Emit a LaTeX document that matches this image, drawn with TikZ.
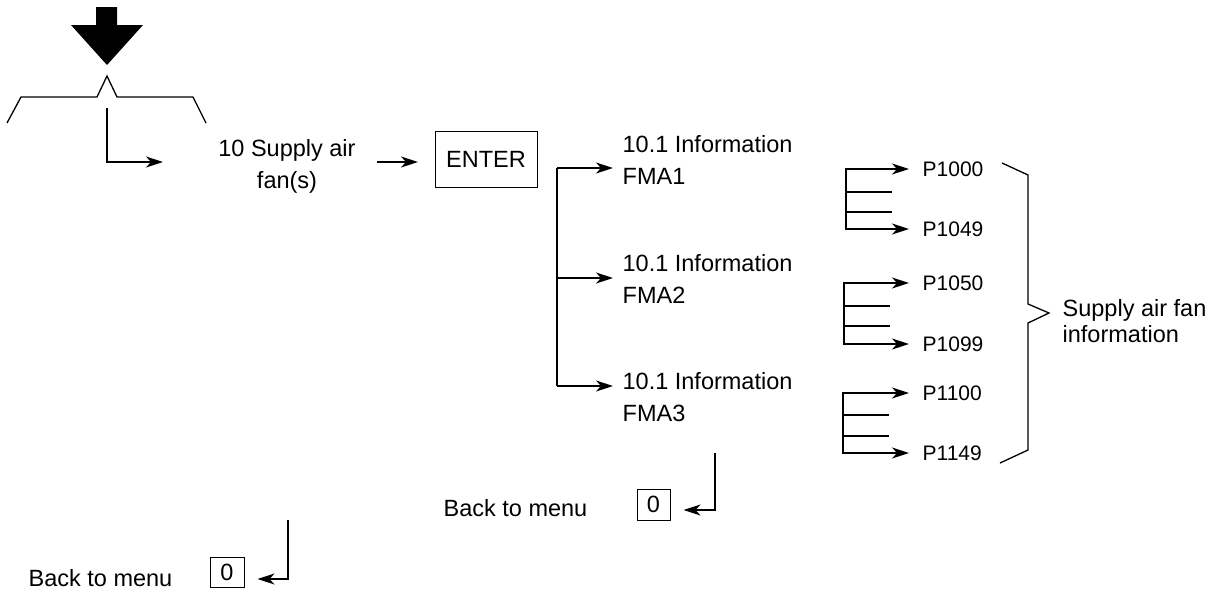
\documentclass[tikz,border=0pt]{standalone}
\usepackage{fontspec}
\setmainfont{Liberation Sans}
\usetikzlibrary{arrows.meta}
\begin{document}
\begin{tikzpicture}[x=1pt,y=-1pt,line width=1.3pt,
  >={Stealth[length=17pt,width=11pt,inset=5pt]},
  lbl/.style={font=\fontsize{23.5}{32}\selectfont,inner sep=0pt},
  plbl/.style={font=\fontsize{21}{26}\selectfont,inner sep=0pt,anchor=west},
  keybox/.style={draw,line width=1pt,inner sep=0pt,font=\fontsize{23.5}{26}\selectfont}]
\useasboundingbox (0,0) rectangle (1212,590);
% big entry arrow
\fill (96,7) -- (117,7) -- (117,25) -- (143,25) -- (107,65) -- (71,25) -- (96,25) -- cycle;
% bracket
\draw (7,123) -- (21,97) -- (97,97) -- (107,76) -- (117,97) -- (193,97) -- (206,123);
% supply air fan node
\node[lbl,align=center] (supply) at (287,166) {10 Supply air\\fan(s)};
\coordinate (start) at (107,108);
\coordinate (supplyin) at (163,162);
\draw[->] (start) |- (supplyin);
% enter
\node[keybox,minimum width=102pt,minimum height=56pt] (enter) at (486,159) {ENTER};
\coordinate (supplyout) at (377,162);
\coordinate (enterin) at (418,162);
\draw[->] (supplyout) -- (enterin);
% information nodes
\node[lbl,align=left,anchor=west] (info1) at (622,160) {10.1 Information\\FMA1};
\node[lbl,align=left,anchor=west] (info2) at (622,279) {10.1 Information\\FMA2};
\node[lbl,align=left,anchor=west] (info3) at (622,397) {10.1 Information\\FMA3};
\coordinate (b1) at (557,168);
\coordinate (b2) at (557,278);
\coordinate (b3) at (557,386);
\coordinate (i1) at (613,168);
\coordinate (i2) at (613,278);
\coordinate (i3) at (613,386);
\draw (b1) -- (b3);
\draw[->] (b1) -- (i1);
\draw[->] (b2) -- (i2);
\draw[->] (b3) -- (i3);
% parameter groups
\node[plbl] (p1000) at (922,169) {P1000};
\node[plbl] (p1049) at (922,229) {P1049};
\node[plbl] (p1050) at (922,283) {P1050};
\node[plbl] (p1099) at (922,344) {P1099};
\node[plbl] (p1100) at (922,393) {P1100};
\node[plbl] (p1149) at (922,453) {P1149};
\draw[<->] (909,169) -| (846,229) -- (909,229);
\draw (846,192) -- (892,192) (846,212) -- (892,212);
\draw[<->] (909,283) -| (844,344) -- (909,344);
\draw (844,306) -- (890,306) (844,326) -- (890,326);
\draw[<->] (909,393) -| (843,453) -- (909,453);
\draw (843,415) -- (889,415) (843,436) -- (889,436);
% brace
\draw (1002,163) -- (1028,175) -- (1028,304) -- (1049,313) -- (1028,323) -- (1028,450) -- (1000,463);
\node[lbl,font=\fontsize{23.5}{26}\selectfont,align=left,anchor=west] (safi) at (1062,321) {Supply air fan\\information};
% back to menu 1
\node[lbl,anchor=west] (back1) at (443,508) {Back to menu};
\node[keybox,minimum width=33pt,minimum height=31pt] (zero1) at (653.5,504.5) {0};
\coordinate (r1) at (715,453);
\draw[->] (r1) |- ([xshift=13pt,yshift=-5.5pt]zero1.east);
% back to menu 2
\node[lbl,anchor=west] (back2) at (28,578) {Back to menu};
\node[keybox,minimum width=34pt,minimum height=30pt] (zero2) at (227,572) {0};
\coordinate (r2) at (288,520);
\draw[->] (r2) |- ([xshift=13pt,yshift=-7pt]zero2.east);
\end{tikzpicture}
\end{document}
